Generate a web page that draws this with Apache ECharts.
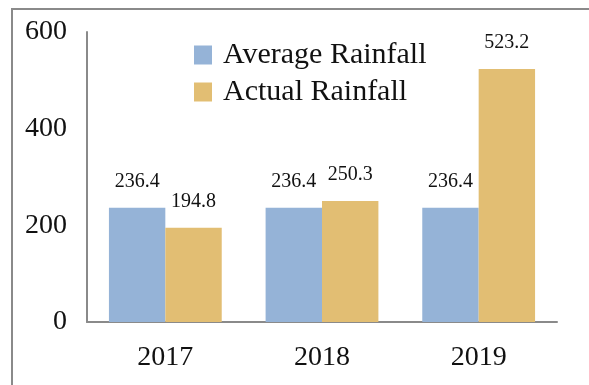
<!DOCTYPE html>
<html><head><meta charset="utf-8">
<script src="https://cdn.jsdelivr.net/npm/echarts@6/dist/echarts.min.js"></script>
<style>html,body{margin:0;padding:0;background:#fff}#c{width:589px;height:385px}</style>
</head><body><div id="c"></div>
<script>
const categories = ['2017', '2018', '2019'];
const averageRainfall = [236.4, 236.4, 236.4];
const actualRainfall = [194.8, 250.3, 523.2];
const yTicks = [0, 200, 400, 600];

const chart = echarts.init(document.getElementById('c'));
const serif = '"Liberation Serif","Times New Roman",serif';
const labelCfg = {
  show: true, position: 'top', distance: 16,
  fontFamily: serif, fontSize: 20, color: '#111'
};
chart.setOption({
  animation: false,
  graphic: [{
    type: 'polyline', silent: true,
    shape: { points: [[589, 9], [12, 9], [12, 385]] },
    style: { stroke: '#8a8a8a', lineWidth: 2, fill: null }
  }],
  grid: { left: 87, right: 32, top: 32, bottom: 63 },
  legend: {
    orient: 'vertical', left: 194, top: 40, padding: 0,
    itemWidth: 18, itemHeight: 19, itemGap: 7,
    icon: 'rect',
    textStyle: { fontFamily: serif, fontSize: 30, color: '#111', padding: [0, 0, 0, 6], lineHeight: 29 },
    data: ['Average Rainfall', 'Actual Rainfall']
  },
  xAxis: {
    type: 'category', data: categories,
    axisLine: { lineStyle: { color: '#8a8a8a', width: 2 } },
    axisTick: { show: false },
    axisLabel: { fontFamily: serif, fontSize: 28, color: '#111', margin: 22 }
  },
  yAxis: {
    type: 'value', min: yTicks[0], max: yTicks[yTicks.length - 1], interval: 200,
    axisLine: { show: true, lineStyle: { color: '#8a8a8a', width: 2 } },
    axisTick: { show: false },
    splitLine: { show: false },
    axisLabel: { fontFamily: serif, fontSize: 28, color: '#111', margin: 20 }
  },
  series: [
    { name: 'Average Rainfall', type: 'bar', data: averageRainfall, barGap: 0, barCategoryGap: '28%',
      itemStyle: { color: '#95B3D7' }, label: labelCfg },
    { name: 'Actual Rainfall', type: 'bar', data: actualRainfall, barGap: 0, barCategoryGap: '28%',
      itemStyle: { color: '#E2BE73' }, label: labelCfg }
  ]
});
</script></body></html>
